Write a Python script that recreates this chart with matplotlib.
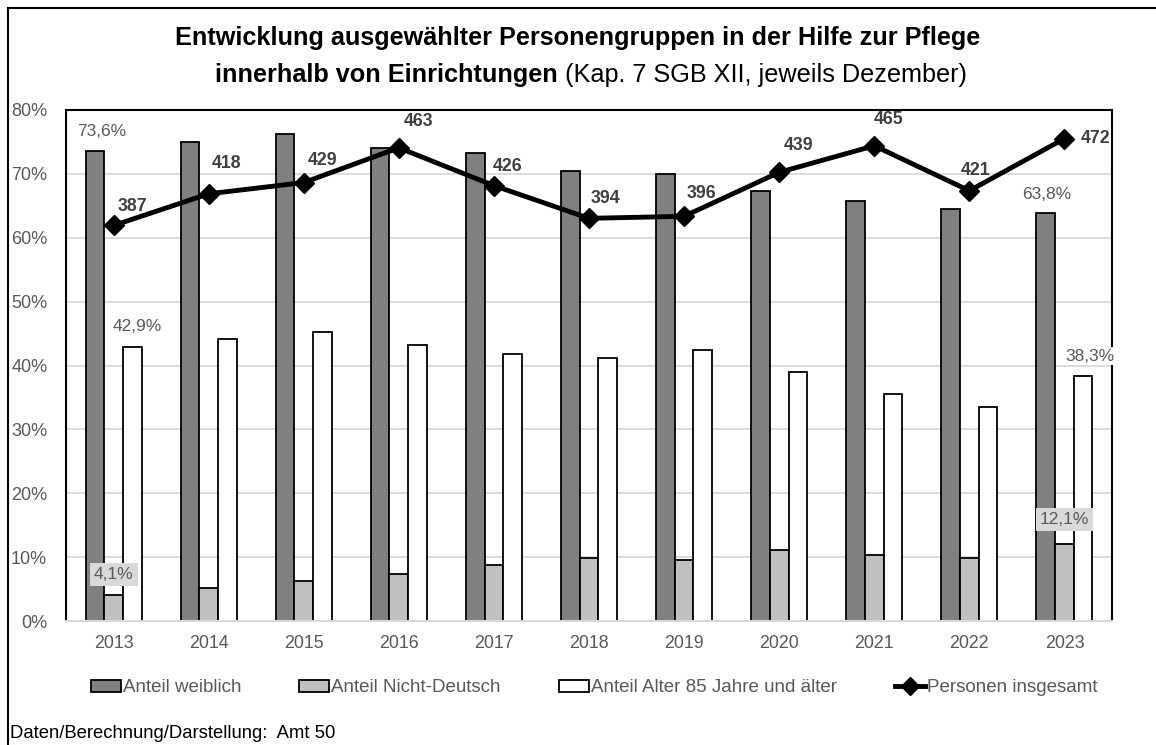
import matplotlib
matplotlib.use("Agg")
import matplotlib.pyplot as plt
from matplotlib.patches import Patch
from matplotlib.lines import Line2D
import numpy as np

plt.rcParams["font.family"] = ["Liberation Sans", "DejaVu Sans"]

years = ["2013", "2014", "2015", "2016", "2017", "2018", "2019", "2020", "2021", "2022", "2023"]
anteil_weiblich = [73.6, 75.0, 76.3, 74.1, 73.3, 70.4, 70.0, 67.3, 65.7, 64.5, 63.8]
anteil_nicht_deutsch = [4.1, 5.1, 6.3, 7.3, 8.8, 9.9, 9.6, 11.1, 10.3, 9.9, 12.1]
anteil_alter85 = [42.9, 44.1, 45.3, 43.2, 41.8, 41.1, 42.4, 39.0, 35.5, 33.5, 38.3]
personen = [387, 418, 429, 463, 426, 394, 396, 439, 465, 421, 472]

# label offsets for the line values (pixels, right/up)
line_label_offsets = [(19, 19), (18, 30), (19, 22), (20, 26), (14, 19), (16, 20),
                      (17, 23), (19, 27), (14, 26), (6, 20), (31, 0)]

DARK = "#808080"
LIGHT = "#c0c0c0"
GRID = "#d9d9d9"
TXT = "#595959"

fig = plt.figure(figsize=(11.56, 7.45), dpi=100)
ax = fig.add_axes([66 / 1156, 1 - 621 / 745, (1112 - 66) / 1156, (621 - 110) / 745])

x = np.arange(len(years))
w = 0.196
ax.bar(x - w, anteil_weiblich, w, color=DARK, edgecolor="black", linewidth=1.3, zorder=2)
ax.bar(x, anteil_nicht_deutsch, w, color=LIGHT, edgecolor="black", linewidth=1.3, zorder=2)
ax.bar(x + w, anteil_alter85, w, color="white", edgecolor="black", linewidth=1.3, zorder=2)

ax.set_xlim(-0.5, len(years) - 0.5)
ax.set_ylim(0, 80)
ax.set_yticks(range(0, 81, 10))
ax.set_yticklabels([f"{v}%" for v in range(0, 81, 10)])
ax.set_xticks(x)
ax.set_xticklabels(years)
ax.tick_params(axis="both", length=0, labelcolor=TXT)
ax.tick_params(axis="y", pad=13.5, labelsize=13)
ax.tick_params(axis="x", pad=10, labelsize=12.8)
ax.grid(axis="y", color=GRID, linewidth=1.3, zorder=0)
ax.set_axisbelow(True)
for s in ["left", "top", "right"]:
    ax.spines[s].set_color("black")
    ax.spines[s].set_linewidth(1.5)
ax.spines["bottom"].set_color(GRID)
ax.spines["bottom"].set_linewidth(1.5)

def fmt(v):
    return f"{v:.1f}%".replace(".", ",")

# bar labels (first and last year only)
for i in [0, len(years) - 1]:
    ax.annotate(fmt(anteil_weiblich[i]), (x[i] - w, anteil_weiblich[i]), xytext=(7 if i == 0 else 1, 19),
                textcoords="offset pixels", ha="center", va="center", fontsize=12.5, color=TXT, zorder=5)
    ax.annotate(fmt(anteil_alter85[i]), (x[i] + w, anteil_alter85[i]), xytext=(5 if i == 0 else 7, 20),
                textcoords="offset pixels", ha="center", va="center", fontsize=12.5, color=TXT, zorder=5,
                bbox=dict(facecolor="white", edgecolor="none", pad=1))
    ax.annotate(fmt(anteil_nicht_deutsch[i]), (x[i], anteil_nicht_deutsch[i]), xytext=(0, 20 if i == 0 else 24),
                textcoords="offset pixels", ha="center", va="center", fontsize=12.5, color=TXT, zorder=5,
                bbox=dict(facecolor="#d9d9d9", edgecolor="none", pad=3))

ax2 = ax.twinx()
ax2.set_ylim(0, 500)
ax2.axis("off")
ax2.plot(x, personen, color="black", linewidth=3.5, marker="D", markersize=10, zorder=4)
for i, v in enumerate(personen):
    dx, dy = line_label_offsets[i]
    ax2.annotate(str(v), (x[i], v), xytext=(dx, dy), textcoords="offset pixels",
                 ha="center", va="center", fontsize=12.8, fontweight="bold", color="#404040")

handles = [
    Patch(facecolor=DARK, edgecolor="black", linewidth=1.3),
    Patch(facecolor=LIGHT, edgecolor="black", linewidth=1.3),
    Patch(facecolor="white", edgecolor="black", linewidth=1.3),
    Line2D([], [], color="black", linewidth=3.5, marker="D", markersize=9),
]
labels = ["Anteil weiblich", "Anteil Nicht-Deutsch", "Anteil Alter 85 Jahre und älter", "Personen insgesamt"]
fig.legend(handles, labels, loc="center", bbox_to_anchor=(0.514, 1 - 688 / 745), ncol=4,
           frameon=False, fontsize=13.5, handlelength=1.6, handleheight=0.55, handletextpad=0.1,
           columnspacing=3.1, labelcolor=TXT)

# title
fig.text(0.5, 1 - 38 / 745, "Entwicklung ausgewählter Personengruppen in der Hilfe zur Pflege",
         ha="center", va="center", fontsize=18.2, fontweight="bold")
fig.canvas.draw()
r = fig.canvas.get_renderer()
t_bold = fig.text(0, 1 - 75 / 745, "innerhalb von Einrichtungen", ha="left", va="center",
                  fontsize=18.2, fontweight="bold")
t_reg = fig.text(0, 1 - 75 / 745, " (Kap. 7 SGB XII, jeweils Dezember)", ha="left", va="center",
                 fontsize=18.2)
wb = t_bold.get_window_extent(r).width
wr = t_reg.get_window_extent(r).width
x0 = (591 - (wb + wr) / 2) / 1156
t_bold.set_x(x0)
t_reg.set_x(x0 + wb / 1156)

fig.text(10 / 1156, 1 - 733 / 745, "Daten/Berechnung/Darstellung:  Amt 50", ha="left", va="center",
         fontsize=13.3, color="black")

# outer frame (left and top)
fig.add_artist(Line2D([7.5 / 1156, 7.5 / 1156], [0, 1 - 8 / 745], color="black", linewidth=1.5))
fig.add_artist(Line2D([7.5 / 1156, 1], [1 - 8 / 745, 1 - 8 / 745], color="black", linewidth=1.5))

fig.savefig("out.png", dpi=100)
